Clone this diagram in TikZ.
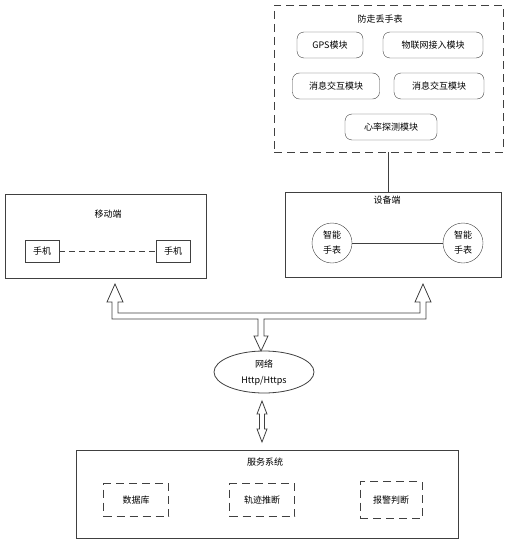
\documentclass[tikz,border=0pt]{standalone}
\usepackage{fontspec}
\setmainfont{Noto Sans CJK SC}
\usetikzlibrary{shapes.geometric}

\tikzset{
  box/.style={draw=black!75, thick, minimum width=#1},
  module/.style={draw=black!75, rounded corners=7pt, minimum height=26pt},
  part/.style={draw=black!75, thick, dash pattern=on 8pt off 5pt, minimum width=65pt, minimum height=33pt},
  phone/.style={draw=black!75, thick, minimum width=34pt, minimum height=22pt},
  watch/.style={draw=black!75, circle, minimum size=40pt, inner sep=0pt, align=center},
  hollow/.style={draw=black!75, thick, line join=miter},
}

\begin{document}
\begin{tikzpicture}[x=1pt, y=-1pt, font=\fontsize{9}{11}\selectfont]
        \useasboundingbox (0,0) rectangle (515,543);

        % Anti-loss watch (dashed group)
        \node[draw=black!75, thick, dash pattern=on 8pt off 5pt,
              minimum width=229pt, minimum height=147pt] (band) at (388.5,78.5) {};
        \node (bandtitle) at (380,19) {防走丢手表};
        \node[module, minimum width=66pt] (gps) at (330,45) {GPS模块};
        \node[module, minimum width=100pt] (iot) at (433,45) {物联网接入模块};
        \node[module, minimum width=87pt] (msgA) at (336,86) {消息交互模块};
        \node[module, minimum width=90pt] (msgB) at (439,86) {消息交互模块};
        \node[module, minimum width=92pt] (heart) at (391,127) {心率探测模块};

        % Mobile side
        \node[box=201pt, minimum height=84pt] (mob) at (105.5,236) {};
        \node (mobtitle) at (108,214) {移动端};
        \node[phone] (phoneA) at (42,251.5) {手机};
        \node[phone] (phoneB) at (173,251.5) {手机};
        \draw[black!75, thick, dash pattern=on 6pt off 4pt] (phoneA) -- (phoneB);

        % Device side
        \node[box=216pt, minimum height=85pt] (dev) at (393,234.5) {};
        \node (devtitle) at (387,200) {设备端};
        \node[watch] (watchA) at (332,243) {智能\\[4pt]手表};
        \node[watch] (watchB) at (463,243) {智能\\[4pt]手表};
        \draw[black!75, thick] (watchA) -- (watchB);

        % watch group to device side
        \draw[black!75, thick] (band.south) -- (band.south |- dev.north);

        % Network
        \node[draw=black!75, thick, ellipse, minimum width=100pt, minimum height=42pt] (net) at (264,372) {};
        \node (netA) at (264,364) {网络};
        \node (netB) at (264,381) {Http/Https};

        % Service system
        \node[box=382pt, minimum height=88pt] (srv) at (267,494) {};
        \node (srvtitle) at (265,462) {服务系统};
        \node[part] (db) at (136,500) {数据库};
        \node[part] (track) at (262,500) {轨迹推断};
        \node[part, minimum width=62pt, minimum height=37pt] (alarm) at (391,500) {报警判断};

        % Hollow bus arrows (outline of a block arrow)
        \coordinate (tipL) at (115,284);
        \coordinate (tipR) at (423,284);
        \coordinate (tipN) at (261,351);
        \draw[hollow] (112,319) -- (112,302) -- (107,302) -- (tipL) -- (123,302) -- (118,302)
          -- (118,313) -- (420,313) -- (420,302) -- (415,302) -- (tipR) -- (431,302)
          -- (426,302) -- (426,319) -- (264,319) -- (264,336) -- (268,336) -- (tipN)
          -- (254,336) -- (258,336) -- (258,319) -- cycle;

        % Hollow two-way arrow, network to service system
        \coordinate (tipU) at (262,401);
        \coordinate (tipD) at (262,442);
        \draw[hollow] (tipU) -- (267,414) -- (264.5,414) -- (264.5,429) -- (267,429) -- (tipD)
          -- (257,429) -- (259.5,429) -- (259.5,414) -- (257,414) -- cycle;
\end{tikzpicture}
\end{document}
